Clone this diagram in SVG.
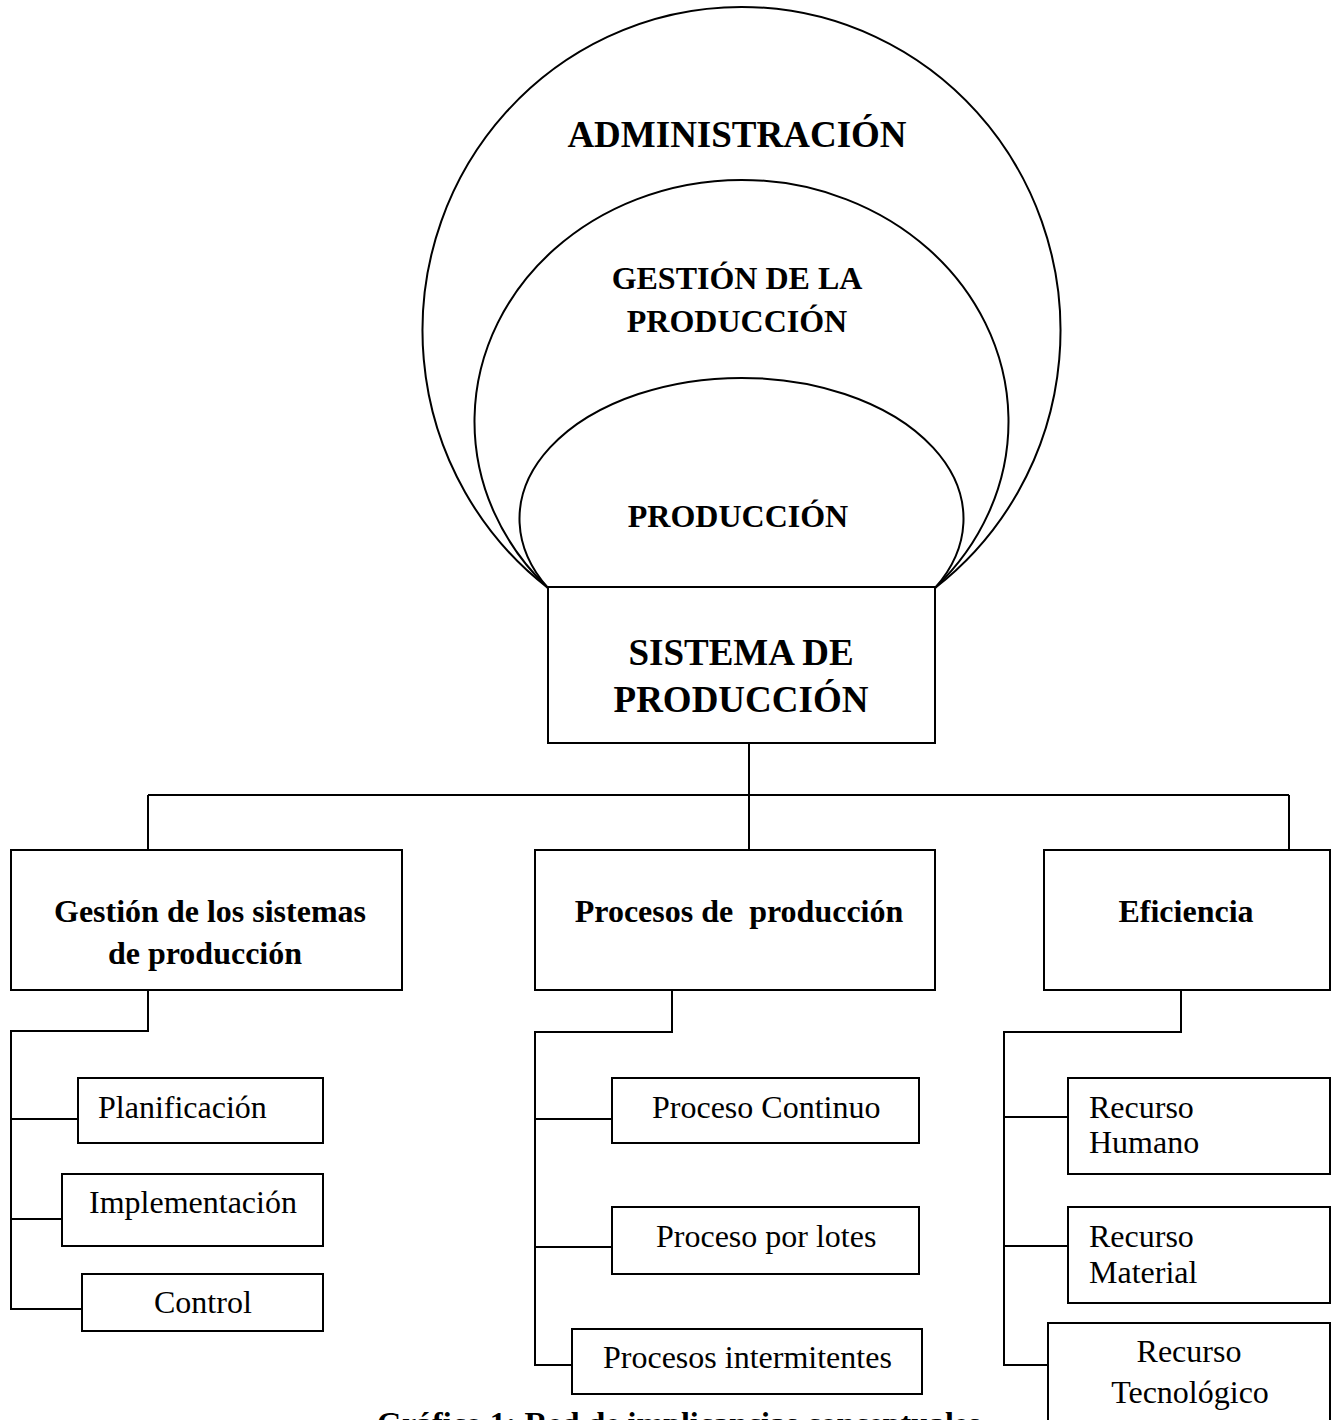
<svg xmlns="http://www.w3.org/2000/svg" width="1336" height="1420" viewBox="0 0 1336 1420">
<style>
.ln{fill:none;stroke:#000;stroke-width:2}
.bx{fill:#fff;stroke:#000;stroke-width:2}
.t{font-family:"Liberation Serif","Times New Roman",serif;fill:#000}
.b{font-weight:bold}
.r{font-size:32px}
.pre{white-space:pre}
</style>
<rect width="1336" height="1420" fill="#fff"/>
<g id="circles">
<path id="administracion" class="ln" d="M548,588 A319,323.7 0 1 1 935,588"/>
<path id="gestion-produccion" class="ln" d="M548,588 A267,241.6 0 1 1 935,588"/>
<path id="produccion" class="ln" d="M548,588 A222,141 0 1 1 935,588"/>
<text class="t b" x="737" y="147" font-size="37" text-anchor="middle">ADMINISTRACIÓN</text>
<text class="t b" x="737" y="289" font-size="32" text-anchor="middle">GESTIÓN DE LA</text>
<text class="t b" x="737" y="332" font-size="32" text-anchor="middle">PRODUCCIÓN</text>
<text class="t b" x="738" y="527" font-size="32" text-anchor="middle">PRODUCCIÓN</text>
</g>
<g id="connectors">
<path class="ln" d="M749,743 V850 M148,795 H1289 M148,795 V850 M1289,795 V850"/>
<path class="ln" d="M148,990 V1031 H11 V1309 H82 M11,1119 H78 M11,1219 H62"/>
<path class="ln" d="M672,990 V1032 H535 V1365 H572 M535,1119 H612 M535,1247 H612"/>
<path class="ln" d="M1181,990 V1032 H1004 V1365 H1048 M1004,1117 H1068 M1004,1246 H1068"/>
</g>
<g id="sistema">
<rect class="bx" x="548" y="587" width="387" height="156"/>
<text class="t b" x="741" y="665" font-size="37" text-anchor="middle">SISTEMA DE</text>
<text class="t b" x="741" y="712" font-size="37" text-anchor="middle">PRODUCCIÓN</text>
</g>
<g id="gestion">
<rect class="bx" x="11" y="850" width="391" height="140"/>
<text class="t b r" x="210" y="922" text-anchor="middle">Gestión de los sistemas</text>
<text class="t b r" x="205" y="964" text-anchor="middle">de producción</text>
</g>
<g id="procesos">
<rect class="bx" x="535" y="850" width="400" height="140"/>
<text class="t b r pre" x="739" y="922" text-anchor="middle">Procesos de  producción</text>
</g>
<g id="eficiencia">
<rect class="bx" x="1044" y="850" width="286" height="140"/>
<text class="t b r" x="1186" y="922" text-anchor="middle">Eficiencia</text>
</g>
<g id="planificacion">
<rect class="bx" x="78" y="1078" width="245" height="65"/>
<text class="t r" x="98" y="1118">Planificación</text>
</g>
<g id="implementacion">
<rect class="bx" x="62" y="1174" width="261" height="72"/>
<text class="t r" x="89" y="1213">Implementación</text>
</g>
<g id="control">
<rect class="bx" x="82" y="1274" width="241" height="57"/>
<text class="t r" x="154" y="1313">Control</text>
</g>
<g id="proceso-continuo">
<rect class="bx" x="612" y="1078" width="307" height="65"/>
<text class="t r" x="652" y="1118">Proceso Continuo</text>
</g>
<g id="proceso-lotes">
<rect class="bx" x="612" y="1207" width="307" height="67"/>
<text class="t r" x="656" y="1247">Proceso por lotes</text>
</g>
<g id="procesos-intermitentes">
<rect class="bx" x="572" y="1329" width="350" height="65"/>
<text class="t r" x="603" y="1368">Procesos intermitentes</text>
</g>
<g id="recurso-humano">
<rect class="bx" x="1068" y="1078" width="262" height="96"/>
<text class="t r" x="1089" y="1118">Recurso</text>
<text class="t r" x="1089" y="1153">Humano</text>
</g>
<g id="recurso-material">
<rect class="bx" x="1068" y="1207" width="262" height="96"/>
<text class="t r" x="1089" y="1247">Recurso</text>
<text class="t r" x="1089" y="1283">Material</text>
</g>
<g id="recurso-tecnologico">
<rect class="bx" x="1048" y="1323" width="282" height="120"/>
<text class="t r" x="1189" y="1362" text-anchor="middle">Recurso</text>
<text class="t r" x="1190" y="1403" text-anchor="middle">Tecnológico</text>
</g>
<g id="caption">
<text class="t b r" x="377" y="1434">Gráfico 1: Red de implicancias conceptuales</text>
</g>
</svg>
